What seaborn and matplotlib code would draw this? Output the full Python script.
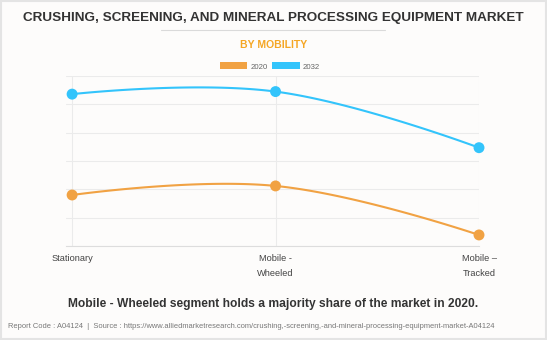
import numpy as np
import pandas as pd
import matplotlib
matplotlib.use("Agg")
import matplotlib.pyplot as plt
import seaborn as sns
from matplotlib.patches import Rectangle
from matplotlib.lines import Line2D

categories = ["Stationary", "Mobile -\nWheeled", "Mobile \u2013\nTracked"]
values_2020 = [1.80, 2.12, 0.39]
values_2032 = [5.36, 5.45, 3.47]
series_names = ["2020", "2032"]
colors = {"2020": "#F1A243", "2032": "#33C4FB"}

sns.set_theme(style="white")
plt.rcParams["font.family"] = ["Liberation Sans", "DejaVu Sans"]


def spline_curve(xs, ys, n=60, smoothing=1.5):
    """Highcharts-style spline through the given points (cubic Bezier segments)."""
    xs = np.asarray(xs, float)
    ys = np.asarray(ys, float)
    m = len(xs)
    left = [None] * m
    right = [None] * m
    for i in range(1, m - 1):
        d = smoothing + 1
        lx = (smoothing * xs[i] + xs[i - 1]) / d
        ly = (smoothing * ys[i] + ys[i - 1]) / d
        rx = (smoothing * xs[i] + xs[i + 1]) / d
        ry = (smoothing * ys[i] + ys[i + 1]) / d
        corr = 0.0
        if lx != rx:
            corr = (ry - ly) * (rx - xs[i]) / (rx - lx) + ys[i] - ry
        left[i] = (lx, ly + corr)
        right[i] = (rx, ry + corr)
    px, py = [], []
    t = np.linspace(0, 1, n)
    for i in range(1, m):
        p0 = (xs[i - 1], ys[i - 1])
        p1 = right[i - 1] if right[i - 1] is not None else p0
        p3 = (xs[i], ys[i])
        p2 = left[i] if left[i] is not None else p3
        bx = (1 - t) ** 3 * p0[0] + 3 * (1 - t) ** 2 * t * p1[0] + 3 * (1 - t) * t ** 2 * p2[0] + t ** 3 * p3[0]
        by = (1 - t) ** 3 * p0[1] + 3 * (1 - t) ** 2 * t * p1[1] + 3 * (1 - t) * t ** 2 * p2[1] + t ** 3 * p3[1]
        px.extend(bx if i == 1 else bx[1:])
        py.extend(by if i == 1 else by[1:])
    return np.array(px), np.array(py)


fig = plt.figure(figsize=(5.47, 3.40), dpi=100)
fig.patch.set_facecolor("#FDFCFB")
fig.add_artist(Rectangle((0.002, 0.003), 0.996, 0.994, transform=fig.transFigure,
                         fill=False, edgecolor="#E4E4E4", linewidth=1.5))

ax = fig.add_axes([66 / 547, 1 - 246 / 340, (479 - 66) / 547, 170 / 340])
ax.set_facecolor("#FDFCFB")

x_pos = np.arange(len(categories))
points = []
curves = []
for name, vals in zip(series_names, [values_2020, values_2032]):
    cx, cy = spline_curve(x_pos, vals)
    curves.append(pd.DataFrame({"x": cx, "y": cy, "series": name}))
    points.append(pd.DataFrame({"x": x_pos, "y": vals, "series": name}))
curve_df = pd.concat(curves, ignore_index=True)
point_df = pd.concat(points, ignore_index=True)

sns.lineplot(data=curve_df, x="x", y="y", hue="series", palette=colors, sort=False,
             estimator=None, linewidth=1.5, legend=False, ax=ax, zorder=3)
sns.scatterplot(data=point_df, x="x", y="y", hue="series", palette=colors, s=62,
                edgecolor="none", legend=False, ax=ax, zorder=4, clip_on=False)

ax.set_xlim(-0.03, 2.0)
ax.set_ylim(0, 6)
ax.set_yticks(np.arange(0, 7, 1))
ax.set_yticklabels([])
ax.set_xticks(x_pos)
ax.set_xticklabels(categories, fontsize=6.7, color="#444444", linespacing=1.9)
ax.tick_params(axis="x", length=0, pad=5.5)
ax.tick_params(axis="y", length=0)
ax.grid(True, axis="both", color="#EBEBEB", linewidth=0.8)
for s in ["top", "right", "left"]:
    ax.spines[s].set_visible(False)
ax.spines["bottom"].set_color("#DDDDDD")
ax.spines["bottom"].set_linewidth(0.8)
ax.set_xlabel("")
ax.set_ylabel("")

# Titles
fig.text(0.5, 1 - 17.5 / 340, "CRUSHING, SCREENING, AND MINERAL PROCESSING EQUIPMENT MARKET",
         ha="center", va="center", fontsize=9.7, fontweight="bold", color="#333333")
fig.add_artist(Line2D([161 / 547, 385 / 547], [1 - 29.5 / 340] * 2, transform=fig.transFigure,
                      color="#DADADA", linewidth=0.8))
fig.text(0.5, 1 - 45 / 340, "BY MOBILITY", ha="center", va="center", fontsize=7.5,
         fontweight="bold", color="#F5A623")

# Legend
handles = [Rectangle((0, 0), 1, 1, facecolor=colors[n], edgecolor="none") for n in series_names]
fig.legend(handles, series_names, loc="center", bbox_to_anchor=(270 / 547, 1 - 66.5 / 340),
           ncol=2, frameon=False, fontsize=5.6, handlelength=3.5, handleheight=1.0,
           handletextpad=0.4, columnspacing=0.6, labelcolor="#666666")

fig.text(273 / 547, 1 - 304 / 340,
         "Mobile - Wheeled segment holds a majority share of the market in 2020.",
         ha="center", va="center", fontsize=8.65, fontweight="bold", color="#333333")
fig.text(8 / 547, 1 - 326 / 340,
         "Report Code : A04124  |  Source : https://www.alliedmarketresearch.com/crushing,-screening,-and-mineral-processing-equipment-market-A04124",
         ha="left", va="center", fontsize=5.37, color="#777777")

fig.savefig("out.png", dpi=100, facecolor=fig.get_facecolor())
